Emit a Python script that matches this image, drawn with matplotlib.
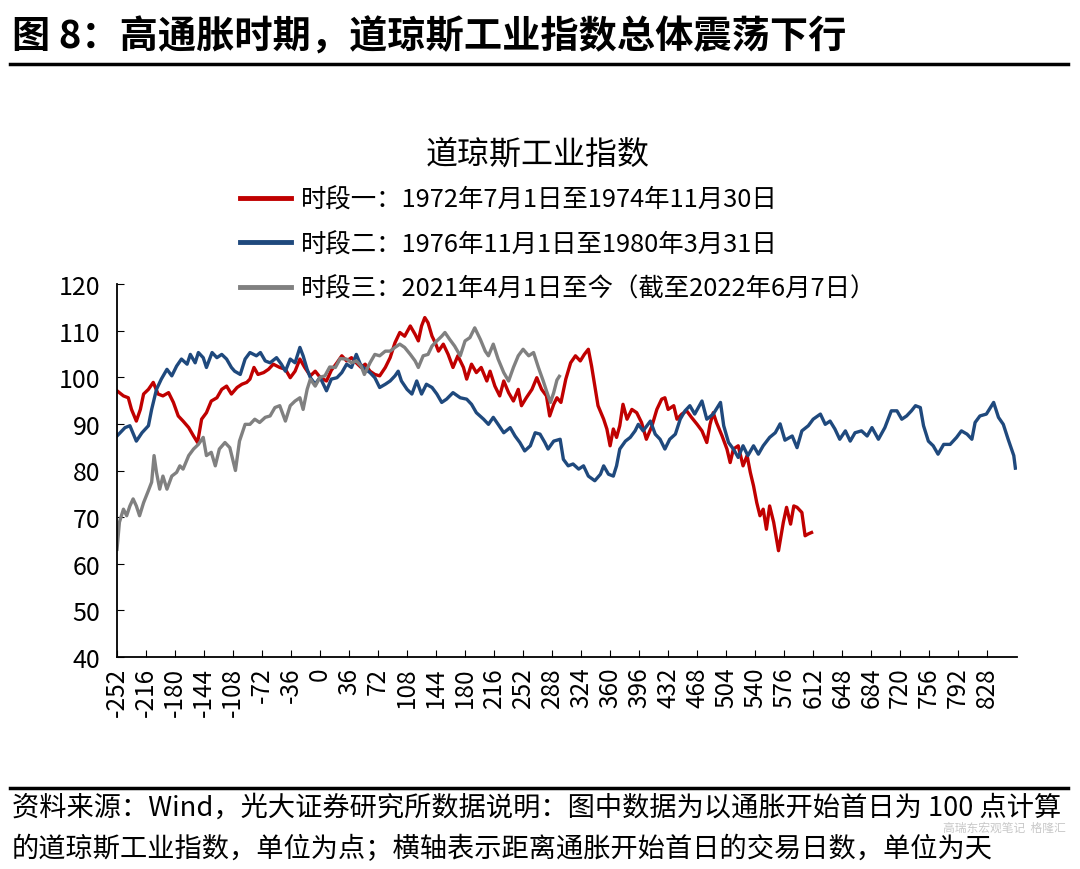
import numpy as np
import matplotlib
matplotlib.use("Agg")
import matplotlib.pyplot as plt
from matplotlib.lines import Line2D

plt.rcParams['font.family'] = ['Noto Sans CJK SC', 'DejaVu Sans']
plt.rcParams['axes.unicode_minus'] = False

# 时段一: 1972-07-01 ~ 1974-11-30 (trading days from start, index)
red_days = [-252, -244, -238, -234, -228, -223, -219, -213, -207, -201, -195, -188,
            -182, -176, -170, -163, -157, -152, -147, -141, -135, -128, -122, -116,
            -110, -103, -97, -91, -87, -82, -77, -70, -64, -58, -50, -43, -37, -31,
            -25, -19, -12, -6, 0, 8, 14, 21, 27, 33, 39, 45, 51, 56, 62, 68, 74, 81,
            87, 93, 99, 105, 112, 118, 122, 126, 130, 134, 139, 143, 147, 153, 159,
            165, 171, 178, 182, 188, 194, 200, 207, 211, 217, 223, 228, 234, 240,
            246, 250, 256, 263, 269, 275, 281, 285, 290, 294, 299, 305, 311, 317,
            323, 328, 333, 337, 341, 345, 352, 356, 360, 364, 368, 372, 376, 381,
            387, 393, 399, 405, 412, 418, 424, 428, 432, 439, 443, 449, 455, 461,
            468, 474, 480, 484, 488, 492, 499, 505, 509, 513, 519, 525, 530, 534,
            538, 542, 546, 550, 554, 558, 563, 569, 575, 579, 584, 588, 592, 598,
            602, 606, 610]
red_vals = [97.1, 96.0, 95.6, 93.1, 90.6, 93.1, 96.4, 97.4, 98.9, 96.4, 96.0, 96.7,
            94.6, 91.7, 90.6, 89.2, 87.4, 86.0, 91.0, 92.4, 94.9, 95.6, 97.4, 98.1,
            96.4, 97.8, 98.5, 98.9, 99.6, 102.1, 100.6, 101.0, 101.7, 102.8, 102.1,
            101.7, 99.9, 101.3, 103.9, 102.1, 100.3, 101.3, 100.0, 99.2, 101.5,
            103.1, 104.6, 103.5, 104.2, 103.1, 102.1, 102.8, 101.3, 100.6, 100.3,
            102.1, 104.2, 107.4, 109.6, 108.8, 111.0, 109.2, 107.8, 111.0, 112.8,
            111.7, 108.8, 107.4, 105.6, 107.1, 104.9, 102.1, 104.6, 102.1, 99.6,
            102.8, 101.0, 102.1, 99.2, 101.3, 98.1, 96.0, 99.2, 96.7, 94.9, 97.4,
            93.9, 95.6, 97.4, 99.9, 97.4, 96.0, 91.7, 94.2, 95.6, 94.6, 99.6, 103.1,
            104.6, 103.5, 104.9, 106.0, 102.4, 98.1, 93.9, 91.0, 88.9, 85.3, 88.9,
            87.1, 89.6, 94.2, 91.0, 93.1, 92.4, 90.3, 86.7, 89.6, 93.1, 95.3, 95.6,
            93.1, 93.9, 91.0, 92.1, 92.8, 91.4, 89.9, 88.5, 86.0, 89.9, 92.4, 90.3,
            87.4, 84.6, 81.7, 84.6, 85.3, 81.0, 83.2, 79.6, 76.7, 73.1, 70.3, 71.7,
            67.4, 72.4, 68.9, 62.8, 68.9, 72.1, 68.5, 72.4, 72.1, 71.0, 66.0, 66.4,
            66.7]

# 时段二: 1976-11-01 ~ 1980-03-31
blue_days = [-252, -242, -236, -228, -221, -213, -209, -203, -197, -190, -184, -178,
             -172, -165, -161, -155, -151, -145, -141, -134, -128, -122, -116, -110,
             -106, -99, -93, -87, -79, -74, -68, -62, -54, -48, -43, -37, -31, -25,
             -21, -16, -12, -6, 0, 8, 14, 21, 27, 33, 39, 45, 50, 56, 62, 68, 74, 81,
             87, 93, 97, 101, 108, 114, 120, 126, 132, 139, 145, 151, 157, 165, 174,
             182, 188, 194, 203, 209, 215, 221, 228, 236, 242, 248, 254, 261, 267,
             273, 279, 283, 290, 298, 302, 308, 314, 321, 327, 333, 341, 348, 352,
             358, 364, 368, 372, 379, 385, 391, 395, 401, 410, 416, 422, 428, 434,
             441, 447, 453, 459, 465, 474, 480, 488, 497, 501, 507, 513, 519, 525,
             531, 538, 544, 550, 558, 565, 571, 577, 586, 592, 598, 606, 612, 621,
             627, 633, 639, 645, 652, 658, 664, 672, 679, 685, 693, 701, 709, 716,
             722, 728, 734, 739, 745, 749, 755, 761, 767, 774, 782, 790, 796, 803,
             809, 813, 819, 827, 836, 842, 848, 854, 861, 863]
blue_vals = [87.4, 89.2, 89.6, 86.3, 88.1, 89.6, 93.1, 97.4, 99.6, 101.7, 100.3,
             102.4, 103.9, 102.8, 104.9, 103.1, 105.3, 104.2, 102.1, 105.3, 104.2,
             104.9, 103.9, 102.1, 101.3, 100.6, 103.9, 105.3, 104.6, 105.3, 103.5,
             103.1, 104.2, 102.8, 101.3, 103.9, 103.1, 106.4, 104.6, 101.7, 99.9,
             98.5, 100.0, 97.1, 99.6, 99.9, 101.0, 102.8, 102.1, 104.9, 102.8, 101.7,
             101.0, 99.9, 97.8, 98.5, 99.2, 100.3, 101.3, 99.2, 97.4, 96.4, 99.2,
             96.4, 98.5, 97.8, 96.4, 94.6, 95.3, 96.7, 95.6, 95.3, 94.2, 92.4, 91.0,
             89.9, 91.4, 89.9, 88.1, 89.2, 87.4, 86.0, 84.2, 85.3, 88.1, 87.8, 86.0,
             84.6, 86.3, 86.7, 82.4, 81.0, 81.4, 80.3, 81.0, 78.8, 77.8, 79.2, 81.0,
             79.2, 78.8, 81.0, 84.6, 86.3, 87.1, 88.5, 89.9, 88.5, 90.6, 87.8, 86.7,
             84.6, 86.7, 87.8, 91.0, 92.8, 93.9, 92.1, 94.9, 91.0, 92.1, 94.6, 89.6,
             86.0, 84.6, 82.8, 85.3, 83.2, 85.3, 83.5, 85.3, 87.1, 88.1, 90.0, 86.5,
             87.4, 84.9, 88.5, 89.6, 91.0, 92.1, 89.9, 90.6, 88.9, 86.7, 88.5, 86.3,
             88.1, 88.5, 87.4, 89.2, 86.7, 89.2, 92.8, 92.8, 91.0, 91.7, 92.8, 93.9,
             93.5, 89.6, 86.3, 85.3, 83.5, 85.6, 85.6, 87.1, 88.5, 87.8, 86.7, 90.3,
             91.7, 92.1, 94.6, 91.4, 89.9, 86.7, 83.2, 80.5]

# 时段三: 2021-04-01 ~ 2022-06-07
gray_days = [-252, -249, -244, -240, -236, -232, -228, -224, -219, -213, -209, -206,
             -203, -199, -195, -190, -184, -178, -174, -170, -163, -157, -151, -145,
             -141, -135, -130, -125, -118, -112, -105, -100, -93, -87, -81, -75, -68,
             -62, -56, -50, -43, -37, -31, -25, -21, -16, -12, -6, 0, 6, 12, 19, 25,
             33, 39, 45, 51, 55, 62, 68, 74, 81, 87, 93, 99, 105, 112, 118, 122, 128,
             134, 139, 145, 151, 155, 161, 167, 174, 180, 186, 192, 199, 205, 209,
             215, 221, 228, 234, 240, 246, 252, 259, 265, 271, 277, 281, 286, 290,
             294, 297]
gray_vals = [63.1, 68.9, 71.7, 70.3, 72.4, 73.9, 72.4, 70.3, 73.1, 75.7, 77.5, 83.2,
             79.6, 76.0, 78.8, 76.0, 78.8, 79.6, 81.0, 80.3, 83.2, 84.6, 85.6, 87.1,
             83.2, 83.9, 81.0, 84.6, 86.0, 84.9, 80.0, 86.3, 89.9, 89.9, 91.0, 90.3,
             91.4, 91.7, 93.5, 93.9, 90.6, 93.9, 94.9, 95.6, 93.1, 97.4, 99.6, 98.1,
             100.0, 100.3, 102.2, 102.1, 104.0, 103.9, 103.1, 103.5, 102.4, 100.6,
             103.1, 104.9, 104.6, 105.6, 105.6, 106.4, 107.1, 106.4, 104.9, 103.5,
             102.1, 104.6, 104.9, 106.7, 107.8, 108.8, 109.6, 108.1, 106.7, 104.6,
             107.8, 108.5, 110.6, 108.1, 105.6, 104.6, 107.1, 103.9, 101.0, 99.2,
             102.1, 104.6, 106.0, 104.6, 105.3, 102.1, 99.2, 97.1, 94.6, 96.7, 99.4,
             100.2]

labels = ['时段一：1972年7月1日至1974年11月30日',
          '时段二：1976年11月1日至1980年3月31日',
          '时段三：2021年4月1日至今（截至2022年6月7日）']
colors = ['#C00000', '#1F497D', '#808080']

W, H = 1080, 870
fig = plt.figure(figsize=(W / 100, H / 100), dpi=100)

# header / footer
fig.text(12 / W, 1 - 37 / H, '图 8：高通胀时期，道琼斯工业指数总体震荡下行',
         fontsize=27.5, fontweight='bold', ha='left', va='center')
fig.add_artist(Line2D([10 / W, 1068 / W], [1 - 65 / H, 1 - 65 / H], color='black', lw=2.5))
fig.add_artist(Line2D([10 / W, 1068 / W], [1 - 789 / H, 1 - 789 / H], color='black', lw=2.5))
fig.text(12 / W, 1 - 808 / H,
         '资料来源：Wind，光大证券研究所数据说明：图中数据为以通胀开始首日为 100 点计算',
         fontsize=19.6, ha='left', va='center')
fig.text(12 / W, 1 - 849 / H,
         '的道琼斯工业指数，单位为点；横轴表示距离通胀开始首日的交易日数，单位为天',
         fontsize=19.6, ha='left', va='center')
# watermark, shrunk to sit in the gap between the two footer lines
fig.text(1066 / W, 1 - 828.5 / H, '高瑞东宏观笔记  格隆汇', fontsize=8.5, color='#c8c8c8',
         ha='right', va='center')

fig.text(538 / W, 1 - 155 / H, '道琼斯工业指数', fontsize=23, ha='center', va='center')

ax = fig.add_axes([117 / W, 1 - 658 / H, (1017 - 117) / W, (658 - 285) / H])
ax.plot(red_days, red_vals, color=colors[0], lw=2.4, label=labels[0])
ax.plot(blue_days, blue_vals, color=colors[1], lw=2.4, label=labels[1])
ax.plot(gray_days, gray_vals, color=colors[2], lw=2.4, label=labels[2])

ax.set_xlim(-252, 865)
ax.set_ylim(40, 120)
xt = np.arange(-252, 829, 36)
ax.set_xticks(xt)
ax.set_xticklabels([str(v) for v in xt], rotation=90, fontsize=17.5)
ax.set_yticks(np.arange(40, 121, 10))
ax.tick_params(axis='y', direction='in', length=5, labelsize=18, pad=12)
ax.tick_params(axis='x', direction='in', length=5, pad=7)
for s in ['top', 'right']:
    ax.spines[s].set_visible(False)
for s in ['left', 'bottom']:
    ax.spines[s].set_linewidth(1.3)

leg = ax.legend(loc='upper left', bbox_to_anchor=(240 / W, 1 - 188 / H),
                bbox_transform=fig.transFigure, frameon=False, fontsize=18.3,
                handlelength=2.0, handletextpad=0.4, labelspacing=0.72,
                borderpad=0, borderaxespad=0)
for line in leg.get_lines():
    line.set_linewidth(3.5)

fig.savefig('out.png', dpi=100)
